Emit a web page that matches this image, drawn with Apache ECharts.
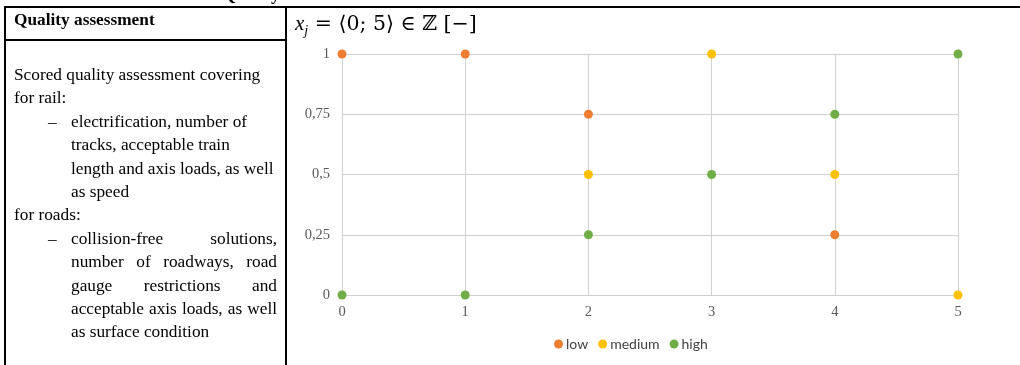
<!DOCTYPE html>
<html>
<head>
<meta charset="utf-8">
<script src="https://cdn.jsdelivr.net/npm/echarts@6/dist/echarts.min.js"></script>
<style>
  html, body { margin:0; padding:0; background:#fff; }
  body { width:1020px; height:365px; position:relative; overflow:hidden; font-family:"Liberation Serif","Times New Roman",serif; color:#000; }
  #chart { position:absolute; left:0; top:0; width:1020px; height:365px; }
  .ln { position:absolute; font-size:17.3px; line-height:20px; white-space:nowrap; }
  .j { text-align:justify; text-align-last:justify; white-space:normal; width:206px; }
  .bd { position:absolute; background:#000; }
</style>
</head>
<body>
<div id="chart"></div>
<div class="ln" style="left:222px; top:-16px; font-weight:bold; font-size:18px;">Quality</div>
<div class="bd" style="left:4px; top:6px; width:1016px; height:2px;"></div>
<div class="bd" style="left:4px; top:6px; width:2px; height:359px;"></div>
<div class="bd" style="left:285px; top:6px; width:2px; height:359px;"></div>
<div class="bd" style="left:4px; top:39px; width:282px; height:2px;"></div>
<div class="ln" style="left:14px; top:10px; font-weight:bold;">Quality assessment</div>
<div id="txt"></div>
<div class="ln" style="left:295px; top:12px; font-size:20.5px; line-height:22px; font-family:'DejaVu Serif','Liberation Serif',serif;"><i style="font-family:'Liberation Serif',serif;font-size:21px;">x<sub style="font-size:14px;">j</sub></i> = ⟨0; 5⟩ ∈ ℤ [−]</div>
<script>
// ---- left cell text lines ----
const textLines = [
  ["Scored quality assessment covering", 14, 75, false, ""],
  ["for rail:", 14, 98, false, ""],
  ["electrification, number of", 71, 122, false, "–"],
  ["tracks, acceptable train", 71, 145, false, ""],
  ["length and axis loads, as well", 71, 169, false, ""],
  ["as speed", 71, 192, false, ""],
  ["for roads:", 14, 215, false, ""],
  ["collision-free solutions,", 71, 239, true, "–"],
  ["number of roadways, road", 71, 262, true, ""],
  ["gauge restrictions and", 71, 286, true, ""],
  ["acceptable axis loads, as well", 71, 309, true, ""],
  ["as surface condition", 71, 332, false, ""]
];
const txt = document.getElementById('txt');
textLines.forEach(([t, x, y, just, dash]) => {
  const d = document.createElement('div');
  d.className = 'ln' + (just ? ' j' : '');
  d.style.left = x + 'px';
  d.style.top = (y - 10) + 'px';
  d.textContent = t;
  txt.appendChild(d);
  if (dash) {
    const e = document.createElement('div');
    e.className = 'ln';
    e.style.left = '48px';
    e.style.top = (y - 10) + 'px';
    e.textContent = dash;
    txt.appendChild(e);
  }
});

// ---- chart data ----
const seriesNames = ["low", "medium", "high"];
const lowData = [[0, 1], [1, 1], [2, 0.75], [4, 0.25]];
const mediumData = [[3, 1], [2, 0.5], [4, 0.5], [5, 0]];
const highData = [[5, 1], [4, 0.75], [3, 0.5], [2, 0.25], [0, 0], [1, 0]];
const colors = ["#ED7D31", "#FFC000", "#70AD47"];

const chart = echarts.init(document.getElementById('chart'), null, { renderer: 'canvas' });
const axisLabelStyle = { color: '#595959', fontSize: 14.5, fontFamily: 'Liberation Serif, serif' };
const mk = (name, data, c) => ({
  name, type: 'scatter', data, symbol: 'circle', symbolSize: 9,
  itemStyle: { color: c, opacity: 1 }
});
chart.setOption({
  animation: false,
  color: colors,
  grid: { left: 342, right: 62, top: 54, bottom: 70, containLabel: false },
  xAxis: {
    type: 'value', min: 0, max: 5, interval: 1,
    axisLine: { show: false }, axisTick: { show: false },
    splitLine: { show: true, lineStyle: { color: '#D0D0D0', width: 1 } },
    axisLabel: Object.assign({ margin: 10 }, axisLabelStyle)
  },
  yAxis: {
    type: 'value', min: 0, max: 1, interval: 0.25,
    axisLine: { show: false }, axisTick: { show: false },
    splitLine: { show: true, lineStyle: { color: '#D0D0D0', width: 1 } },
    axisLabel: Object.assign({ margin: 12, formatter: v => String(v).replace('.', ',') }, axisLabelStyle)
  },
  legend: {
    left: 549, top: 332, itemWidth: 9, itemHeight: 9, itemGap: 10, icon: 'circle',
    textStyle: { color: '#404040', fontSize: 14, fontFamily: 'Lato, sans-serif', padding: [0, 0, 0, -2] },
    data: seriesNames
  },
  series: [mk(seriesNames[0], lowData, colors[0]), mk(seriesNames[1], mediumData, colors[1]), mk(seriesNames[2], highData, colors[2])]
});
</script>
</body>
</html>
